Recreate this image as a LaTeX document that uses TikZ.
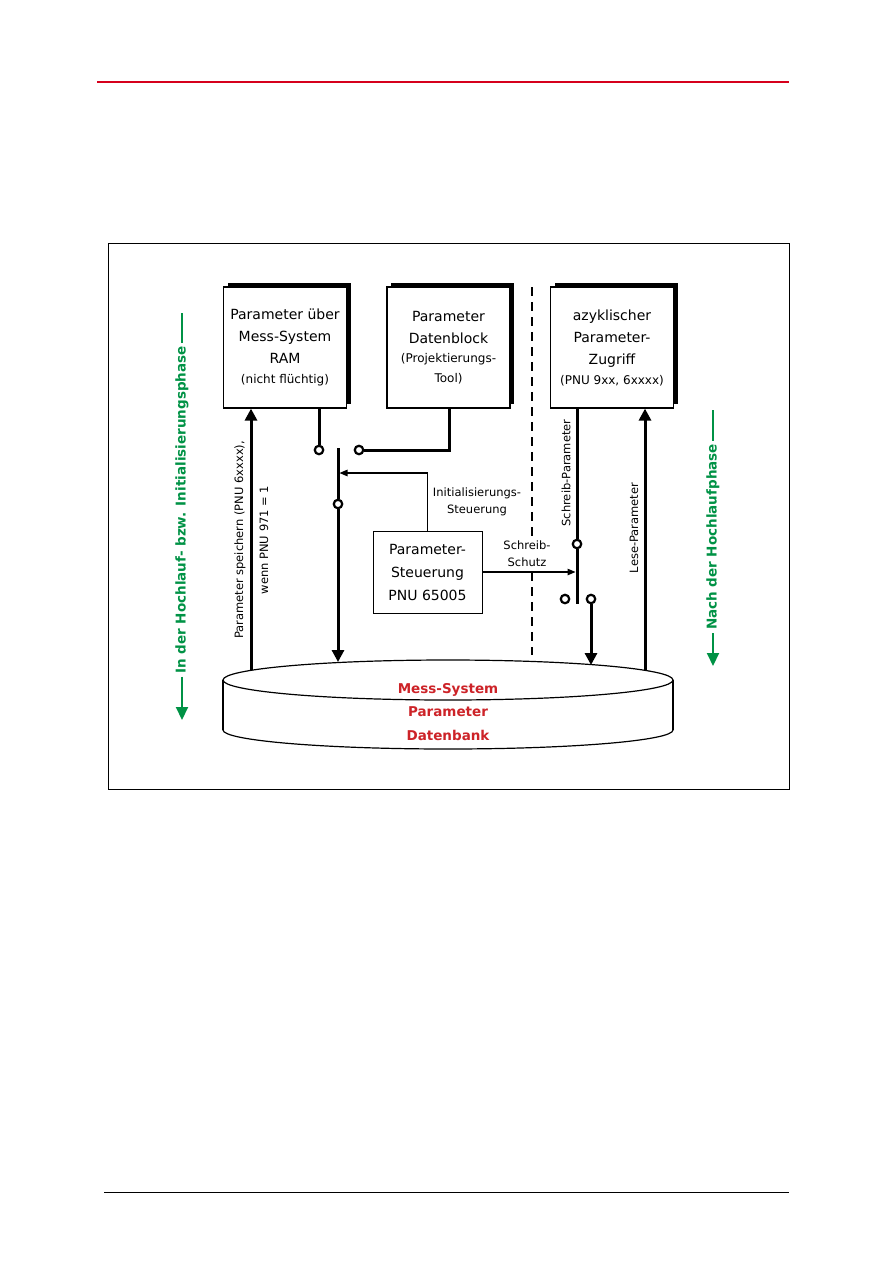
\documentclass[tikz,border=0pt]{standalone}
\usepackage{fontspec}
\setmainfont{DejaVu Sans}
\usetikzlibrary{arrows.meta,shadows}

\definecolor{hdrred}{RGB}{214,0,28}
\definecolor{dbred}{RGB}{205,35,40}
\definecolor{phasegreen}{RGB}{0,146,69}

\begin{document}
\begin{tikzpicture}[x=1pt, y=-1pt,
    box/.style = {draw=black, line width=1.2pt, fill=white, minimum width=123pt, minimum height=121pt,
                  align=center, inner sep=2pt, font=\fontsize{14}{22}\selectfont,
                  drop shadow={shadow xshift=4pt, shadow yshift=4pt, fill=black, opacity=1}},
    ctrlbox/.style = {draw=black, line width=1pt, fill=white, minimum width=109pt, minimum height=82pt,
                  align=center, inner sep=2pt, font=\fontsize{14}{23}\selectfont},
    contact/.style = {draw=black, circle, line width=2.2pt, fill=white, minimum size=8.5pt, inner sep=0pt},
    wire/.style = {line width=3pt},
    bigarrow/.style = {line width=3pt, -{Triangle[length=12pt, width=12pt]}},
    thinarrow/.style = {line width=1.2pt, -{Triangle[length=8pt, width=6.5pt]}},
    lbl/.style = {align=center, inner sep=1pt, font=\fontsize{11.5}{17}\selectfont},
    small/.style = {font=\fontsize{12}{20}\selectfont},
    phase/.style = {rotate=90, inner sep=3pt, text=phasegreen, font=\fontsize{13.5}{16}\selectfont\bfseries},
    phaseline/.style = {draw=phasegreen, line width=2pt},
    phasearrow/.style = {draw=phasegreen, fill=phasegreen, line width=2pt, -{Triangle[length=13pt, width=12pt]}},
    dbtext/.style = {align=center, text=dbred, font=\fontsize{13.5}{23.5}\selectfont\bfseries}
  ]
  \useasboundingbox (0,0) rectangle (893,1263);

  % page rules and frame
  \draw[hdrred, line width=2.5pt] (97,82) -- (789,82);
  \draw[line width=1pt] (104,1192) -- (789,1192);
  \draw[line width=1pt] (108,243) rectangle (789,789);

  % data base
  \draw[line width=1.2pt, fill=white] (448,730) ellipse[x radius=225pt, y radius=19pt];
  \fill[white] (223,680) rectangle (673,730);
  \draw[line width=1.2pt] (223,680) -- (223,730);
  \draw[line width=1.2pt] (673,680) -- (673,730);
  \draw[line width=1.2pt, fill=white] (448,680) ellipse[x radius=225pt, y radius=20pt];
  \node[dbtext] (db) at (448,712) {Mess-System\\Parameter\\Datenbank};

  % boxes
  \node[box] (ram) at (285,347.5) {Parameter über\\Mess-System\\RAM\\[-2pt]{\fontsize{12}{20}\selectfont (nicht flüchtig)}};
  \node[box] (block) at (448.5,347.5) {Parameter\\Datenblock\\[-3pt]{\fontsize{12}{20}\selectfont (Projektierungs-}\\[-2pt]{\fontsize{12}{20}\selectfont Tool)}};
  \node[box] (azyk) at (612,347.5) {azyklischer\\Parameter-\\Zugriff\\[-2pt]{\fontsize{12}{20}\selectfont (PNU 9xx, 6xxxx)}};
  \node[ctrlbox] (ctrl) at (427.5,572) {Parameter-\\Steuerung\\PNU 65005};

  \draw[line width=2pt, dash pattern=on 9pt off 6pt] (532,287) -- (532,655);

  % contacts
  \node[contact] (c1) at (319,450) {};
  \node[contact] (c2) at (359,450) {};
  \node[contact] (c3) at (338,504) {};
  \node[contact] (c4) at (577,544) {};
  \node[contact] (c5) at (565,599) {};
  \node[contact] (c6) at (591,599) {};

  \coordinate (bend) at (449,450);
  \coordinate (bladeTop) at (338,448);
  \coordinate (initHit) at (338,473);
  \coordinate (schutzHit) at (577,572);
  \coordinate (bladeEnd) at (577,604);
  \coordinate (dbSave) at (251,670);
  \coordinate (dbMid) at (338,662);
  \coordinate (dbRight) at (591,665);
  \coordinate (dbLese) at (645,670);

  % left switch
  \draw[wire] (ram.south -| c1) -- (c1);
  \draw[wire] (block.south -| bend) -- (bend) -- (c2);
  \draw[wire] (bladeTop) -- (c3);
  \draw[bigarrow] (c3) -- (dbMid);
  \draw[thinarrow, shorten >=1.5pt] (ctrl.north) |- (initHit);
  \node[lbl] (initLbl) at (477,502) {Initialisierungs-\\Steuerung};

  % right switch
  \draw[wire] (azyk.south -| c4) -- (c4);
  \draw[wire] (c4) -- (bladeEnd);
  \draw[bigarrow] (c6) -- (dbRight);
  \draw[thinarrow, shorten >=1.5pt] (ctrl.east) -- (schutzHit);
  \node[lbl, fill=white] (schutzLbl) at (527,554) {Schreib-\\Schutz};
  \node[lbl, rotate=90] (schreibLbl) at (566,473) {Schreib-Parameter};

  % saving and reading
  \draw[bigarrow] (dbSave) -- (ram.south -| dbSave);
  \node[lbl, rotate=90] (saveLbl) at (240,540) {Parameter speichern (PNU 6xxxx),};
  \node[lbl, rotate=90] (wennLbl) at (264,540) {wenn PNU 971 = 1};
  \draw[bigarrow] (dbLese) -- (azyk.south -| dbLese);
  \node[lbl, rotate=90] (leseLbl) at (634,528) {Lese-Parameter};

  % phases
  \coordinate (phInTop) at (182,313);
  \coordinate (phInBot) at (182,720);
  \node[phase] (phIn) at (182,510) {In der Hochlauf- bzw. Initialisierungsphase};
  \draw[phaseline] (phIn.east) -- (phInTop);
  \draw[phasearrow] (phIn.west) -- (phInBot);

  \coordinate (phNachTop) at (713,410);
  \coordinate (phNachBot) at (713,666);
  \node[phase] (phNach) at (713,537) {Nach der Hochlaufphase};
  \draw[phaseline] (phNach.east) -- (phNachTop);
  \draw[phasearrow] (phNach.west) -- (phNachBot);
\end{tikzpicture}
\end{document}
